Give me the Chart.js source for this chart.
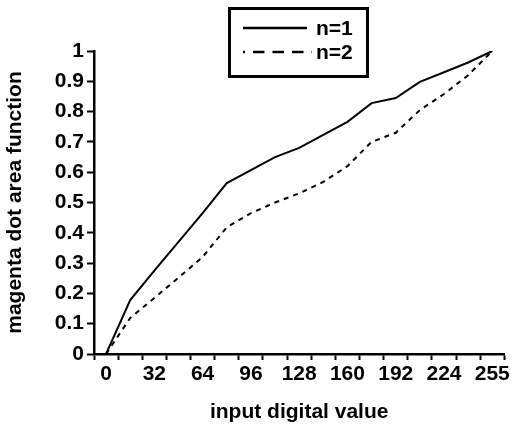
<!DOCTYPE html>
<html>
<head>
<meta charset="utf-8">
<script src="https://cdn.jsdelivr.net/npm/chart.js@4/dist/chart.umd.min.js"></script>
<style>
  html, body { margin: 0; padding: 0; background: #ffffff; }
  #wrap { width: 512px; height: 428px; }
</style>
</head>
<body>
<div id="wrap"><canvas id="c" width="512" height="428"></canvas></div>
<script>
// Input digital values (categories along the x axis)
const categories = [0, 16, 32, 48, 64, 80, 96, 112, 128, 144, 160, 176, 192, 208, 224, 240, 255];
// Only every other category carries a printed label
const xTickLabels = ['0', '', '32', '', '64', '', '96', '', '128', '', '160', '', '192', '', '224', '', '255'];
const yTickLabels = ['0', '0.1', '0.2', '0.3', '0.4', '0.5', '0.6', '0.7', '0.8', '0.9', '1'];

// Magenta dot area function for the two models
const seriesN1 = [0, 0.178, 0.275, 0.37, 0.465, 0.564, 0.607, 0.65, 0.68, 0.723, 0.766, 0.828, 0.845, 0.898, 0.93, 0.962, 1.0];
const seriesN2 = [0, 0.119, 0.185, 0.252, 0.32, 0.418, 0.465, 0.5, 0.53, 0.568, 0.62, 0.70, 0.73, 0.805, 0.858, 0.92, 1.0];

const FONT_FAMILY = "'Liberation Sans', Arial, Helvetica, sans-serif";
const boldFont = { family: FONT_FAMILY, size: 21, weight: 'bold' };

// Boxed legend in the top middle of the figure
const boxedLegend = {
  id: 'boxedLegend',
  afterDraw(chart) {
    const ctx = chart.ctx;
    const box = { x: 229.5, y: 8.5, w: 138, h: 68 };
    ctx.save();
    ctx.fillStyle = '#ffffff';
    ctx.fillRect(box.x, box.y, box.w, box.h);
    ctx.strokeStyle = '#000000';
    ctx.lineWidth = 3;
    ctx.strokeRect(box.x, box.y, box.w, box.h);

    const rows = [28, 52];
    chart.data.datasets.forEach((ds, i) => {
      const y = rows[i];
      const dashed = ds.borderDash && ds.borderDash.length;
      ctx.beginPath();
      ctx.lineWidth = 2.5;
      ctx.strokeStyle = ds.borderColor;
      if (dashed) {
        ctx.setLineDash([11.5, 8]);
        ctx.lineDashOffset = 9.5;
      } else {
        ctx.setLineDash([]);
      }
      ctx.moveTo(243, y);
      ctx.lineTo(dashed ? 312 : 307, y);
      ctx.stroke();
      ctx.setLineDash([]);
      ctx.fillStyle = '#000000';
      ctx.font = 'bold 21px ' + FONT_FAMILY;
      ctx.textAlign = 'left';
      ctx.textBaseline = 'middle';
      ctx.fillText(ds.label, 316, y + 1);
    });
    ctx.restore();
  }
};

new Chart(document.getElementById('c'), {
  type: 'line',
  data: {
    labels: categories,
    datasets: [
      {
        label: 'n=1',
        data: seriesN1,
        borderColor: '#000000',
        borderWidth: 2,
        pointRadius: 0,
        tension: 0,
        fill: false
      },
      {
        label: 'n=2',
        data: seriesN2,
        borderColor: '#000000',
        borderWidth: 2,
        borderDash: [5, 5],
        pointRadius: 0,
        tension: 0,
        fill: false
      }
    ]
  },
  options: {
    responsive: false,
    animation: false,
    devicePixelRatio: 1,
    layout: { padding: { left: 0, right: 7, top: 51, bottom: 0 } },
    plugins: {
      legend: { display: false },
      tooltip: { enabled: false }
    },
    scales: {
      x: {
        type: 'category',
        offset: true,
        grid: {
          offset: true,
          drawOnChartArea: false,
          drawTicks: true,
          tickLength: 6,
          tickWidth: 2,
          tickColor: '#000000'
        },
        border: { display: true, color: '#000000', width: 2.5 },
        ticks: {
          autoSkip: false,
          maxRotation: 0,
          minRotation: 0,
          padding: 2,
          color: '#000000',
          font: boldFont,
          callback: (v, i) => xTickLabels[i]
        },
        title: {
          display: true,
          text: 'input digital value',
          color: '#000000',
          font: boldFont,
          padding: { top: 0, bottom: 3 }
        },
        afterFit(scale) { scale.height = 74; }
      },
      y: {
        type: 'linear',
        min: 0,
        max: 1,
        grid: {
          drawOnChartArea: false,
          drawTicks: true,
          tickLength: 7,
          tickWidth: 2,
          tickColor: '#000000'
        },
        border: { display: true, color: '#000000', width: 2.5 },
        ticks: {
          stepSize: 0.1,
          padding: 3,
          color: '#000000',
          font: boldFont,
          callback: (v, i) => yTickLabels[i]
        },
        title: {
          display: true,
          text: 'magenta dot area function',
          color: '#000000',
          font: boldFont,
          padding: { top: 3, bottom: 0 }
        },
        afterFit(scale) { scale.width = 94; }
      }
    }
  },
  plugins: [boxedLegend]
});
</script>
</body>
</html>
